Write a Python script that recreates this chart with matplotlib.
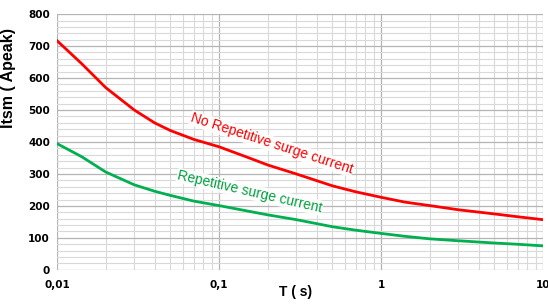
import matplotlib
matplotlib.use("Agg")
import matplotlib.pyplot as plt
from matplotlib.ticker import FixedLocator, LogLocator, MultipleLocator, NullFormatter

# Data
t_red = [0.01, 0.0142, 0.02, 0.03, 0.04, 0.05, 0.07, 0.1, 0.15, 0.2, 0.3, 0.5, 0.7, 1.0, 1.4, 2.0, 3.0, 5.0, 7.0, 10.0]
i_red = [717, 645, 570, 500, 460, 436, 408, 385, 352, 328, 300, 263, 244, 227, 212, 201, 188, 175, 166, 157]

t_green = [0.01, 0.0142, 0.02, 0.03, 0.04, 0.05, 0.07, 0.1, 0.15, 0.2, 0.3, 0.5, 0.7, 1.0, 1.4, 2.0, 3.0, 5.0, 7.0, 10.0]
i_green = [395, 354, 306, 266, 246, 233, 215, 201, 184, 172, 157, 135, 124, 114, 105, 97, 91, 84, 80, 75]

x_ticks = [0.01, 0.1, 1, 10]
x_tick_labels = ["0,01", "0,1", "1", "10"]
y_ticks = [0, 100, 200, 300, 400, 500, 600, 700, 800]

fig = plt.figure(figsize=(5.48, 3.07), dpi=100)
ax = fig.add_axes([0.104, 0.121, 0.887, 0.833])

ax.plot(t_red, i_red, color="#ff0000", lw=2.0, solid_joinstyle="round")
ax.plot(t_green, i_green, color="#00b050", lw=2.0, solid_joinstyle="round")

ax.set_xscale("log")
ax.set_xlim(0.01, 10)
ax.set_ylim(0, 800)
ax.xaxis.set_major_locator(FixedLocator(x_ticks))
ax.set_xticklabels(x_tick_labels)
ax.xaxis.set_minor_locator(LogLocator(base=10, subs=range(2, 10)))
ax.xaxis.set_minor_formatter(NullFormatter())
ax.set_yticks(y_ticks)
ax.yaxis.set_minor_locator(MultipleLocator(20))

ax.grid(which="major", color="#b4b4b4", lw=0.9)
ax.grid(which="minor", color="#d9d9d9", lw=0.8)
ax.set_axisbelow(True)
for s in ax.spines.values():
    s.set_visible(False)
ax.tick_params(which="both", length=0)
ax.tick_params(axis="y", labelsize=7.5, pad=5)
ax.tick_params(axis="x", labelsize=7.5, pad=7)
for lab in ax.get_xticklabels() + ax.get_yticklabels():
    lab.set_fontweight("bold")

ax.set_xlabel("T ( s)", fontsize=10, fontweight="bold", family="Liberation Sans")
ax.xaxis.set_label_coords(0.49, -0.06)
ax.set_ylabel("Itsm ( Apeak)", fontsize=11.5, fontweight="bold", family="Liberation Sans")
ax.yaxis.set_label_coords(-0.085, 0.75)

ax.text(0.212, 394, "No Repetitive surge current", color="#ff0000", fontsize=10,
        family="Liberation Sans", rotation=-18, ha="center", va="center",
        bbox=dict(facecolor="white", edgecolor="none", pad=0.5, alpha=0.85))
ax.text(0.155, 244, "Repetitive surge current", color="#00a040", fontsize=10,
        family="Liberation Sans", rotation=-13, ha="center", va="center",
        bbox=dict(facecolor="white", edgecolor="none", pad=0.5, alpha=0.85))

fig.savefig("out.png", dpi=100)
